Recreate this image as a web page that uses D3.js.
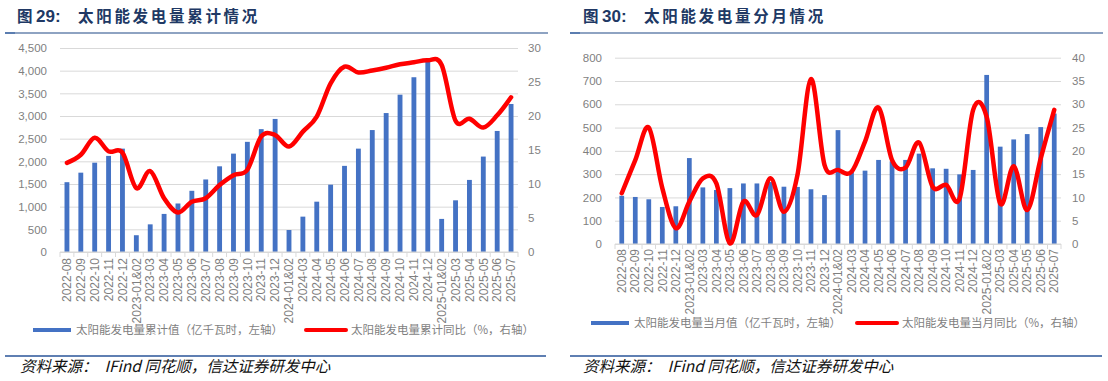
<!DOCTYPE html>
<html>
<head>
<meta charset="utf-8">
<script src="https://cdn.jsdelivr.net/npm/d3@7"></script>
<style>
body { margin: 0; background: #fff; }
text { font-family: "Liberation Sans", Arial, "Noto Sans CJK SC", sans-serif; }
.cjk { font-family: "Noto Sans CJK SC", sans-serif; }
</style>
</head>
<body>
<script>
// categories shared by both panels
const categories = [
  '2022-08','2022-09','2022-10','2022-11','2022-12',
  '2023-01&02','2023-03','2023-04','2023-05','2023-06','2023-07','2023-08','2023-09','2023-10','2023-11','2023-12',
  '2024-01&02','2024-03','2024-04','2024-05','2024-06','2024-07','2024-08','2024-09','2024-10','2024-11','2024-12',
  '2025-01&02','2025-03','2025-04','2025-05','2025-06','2025-07'
];

// fig 29: cumulative generation (100m kWh) and cumulative yoy (%)
const cumValues = [1540,1750,1970,2120,2280, 370,610,840,1070,1350,1600,1890,2170,2430,2710,2935,
  485,780,1110,1485,1900,2280,2690,3065,3470,3855,4200, 730,1140,1590,2105,2670,3265];
const cumYoy = [13.1,14.3,16.8,14.8,14.6, 9.4,11.9,7.9,5.8,7.4,7.9,9.85,11.3,12.1,17.0,17.2,
  15.5,17.7,19.9,24.8,27.25,26.4,26.7,27.1,27.6,27.9,28.2, 27.5,19.3,19.6,18.3,20.1,22.75];

// fig 30: monthly generation and monthly yoy (%)
const monValues = [207,202,192,159,162, 369,243,232,240,260,260,266,246,245,235,210,
  489,310,315,361,355,361,388,325,323,299,318, 726,418,449,472,502,560];
const monYoy = [10.9,18.0,25.0,12.0,3.4, 9.1,14.1,13.0,0.15,9.1,6.2,14.1,6.9,14.8,35.4,17.0,
  15.9,15.5,22.0,29.3,18.0,16.4,21.8,12.3,12.7,9.8,28.8, 27.3,8.7,16.7,7.3,18.4,28.8];

const leftTicks29 = d3.range(0, 4501, 500);
const rightTicks29 = d3.range(0, 31, 5);
const leftTicks30 = d3.range(0, 801, 100);
const rightTicks30 = d3.range(0, 41, 5);

const svg = d3.select('body')
  .append('svg')
  .attr('width', 1108)
  .attr('height', 381);

svg.append('rect').attr('width', 1108).attr('height', 381).attr('fill', '#fff');

function drawPanel(o) {
  const g = svg.append('g');

  // title
  const title = g.append('text')
    .attr('y', 22)
    .attr('fill', '#203864')
    .attr('font-weight', 'bold')
    .attr('font-size', '15.5px')
    .attr('class', 'cjk');
  title.append('tspan').attr('x', o.titleX).text('图');
  title.append('tspan').attr('x', o.titleX + 19).attr('font-family', '"Liberation Sans", Arial')
    .attr('font-size', '17px').text(o.figNo + ':');
  title.append('tspan').attr('x', o.titleX + 61).attr('letter-spacing', '2.7px').text(o.title);

  // top and bottom rules
  g.append('rect').attr('x', o.ruleX0).attr('y', 32).attr('width', o.ruleX1 - o.ruleX0).attr('height', 2).attr('fill', '#8EA3C2');
  g.append('rect').attr('x', o.ruleX0).attr('y', 32).attr('width', 10).attr('height', 2).attr('fill', '#5B7DB0');
  g.append('rect').attr('x', o.ruleX0).attr('y', 355).attr('width', o.botX1 - o.ruleX0).attr('height', 2).attr('fill', '#5F7FB2');

  // source
  g.append('text')
    .attr('x', o.srcX).attr('y', 372)
    .attr('font-size', '15.5px')
    .attr('font-style', 'italic')
    .attr('fill', '#111')
    .attr('class', 'cjk')
    .attr('xml:space', 'preserve')
    .text('资料来源：  IFind 同花顺，信达证券研发中心');

  const x = d3.scaleBand()
    .domain(categories)
    .range([o.left, o.right])
    .paddingInner(0.65)
    .paddingOuter(0.325);
  const xb = d3.scaleBand().domain(categories).range([o.left, o.right]);

  const yL = d3.scaleLinear().domain([0, o.leftMax]).range([o.bottom, o.top]);
  const yR = d3.scaleLinear().domain([0, o.rightMax]).range([o.bottom, o.top]);

  // left axis + grid
  const axL = g.append('g')
    .attr('transform', `translate(${o.left},0)`)
    .call(d3.axisLeft(yL).tickValues(o.leftTicks).tickSize(-(o.right - o.left)).tickPadding(13).tickFormat(d3.format(',')));
  axL.select('.domain').remove();
  axL.selectAll('line').attr('stroke', '#D9D9D9');
  axL.selectAll('text').attr('font-size', '11.5px').attr('fill', '#7f7f7f');

  const axR = g.append('g')
    .attr('transform', `translate(${o.right},0)`)
    .call(d3.axisRight(yR).tickValues(o.rightTicks).tickSize(0).tickPadding(o.rightPad));
  axR.select('.domain').remove();
  axR.selectAll('text').attr('font-size', '11.5px').attr('fill', '#7f7f7f');

  // bars
  g.append('g')
    .selectAll('rect')
    .data(o.values)
    .join('rect')
      .attr('x', (d, i) => x(categories[i]))
      .attr('width', x.bandwidth())
      .attr('y', d => yL(d))
      .attr('height', d => yL(0) - yL(d))
      .attr('fill', '#4472C4');

  // x axis line and ticks
  g.append('line')
    .attr('x1', o.left).attr('x2', o.right)
    .attr('y1', o.bottom).attr('y2', o.bottom)
    .attr('stroke', '#D9D9D9');
  g.append('g')
    .selectAll('line')
    .data(d3.range(categories.length + 1))
    .join('line')
      .attr('x1', i => o.left + i * xb.step()).attr('x2', i => o.left + i * xb.step())
      .attr('y1', o.bottom).attr('y2', o.bottom + 5)
      .attr('stroke', '#D9D9D9');

  g.append('g')
    .selectAll('text')
    .data(categories)
    .join('text')
      .attr('transform', d => `translate(${xb(d) + xb.bandwidth() / 2},${o.bottom + o.labelGap}) rotate(-90)`)
      .attr('text-anchor', 'end')
      .attr('dy', '0.35em')
      .attr('font-size', '12px')
      .attr('fill', '#7f7f7f')
      .text(d => d);

  // yoy line
  const line = d3.line()
    .x((d, i) => xb(categories[i]) + xb.bandwidth() / 2)
    .y(d => yR(d))
    .curve(d3.curveCatmullRom.alpha(0));
  g.append('path')
    .datum(o.yoy)
    .attr('d', line)
    .attr('fill', 'none')
    .attr('stroke', '#FF0000')
    .attr('stroke-width', 4.5)
    .attr('stroke-linejoin', 'round')
    .attr('stroke-linecap', 'round');

  // legend
  const lg = g.append('g').attr('class', 'cjk');
  lg.append('rect')
    .attr('x', o.leg1X).attr('y', o.legY - 2).attr('width', 38).attr('height', 4)
    .attr('fill', '#4472C4');
  lg.append('text')
    .attr('x', o.leg1X + 43).attr('y', o.legY).attr('dy', '0.35em')
    .attr('font-size', '11.5px').attr('fill', '#7f7f7f')
    .attr('class', 'cjk')
    .text(o.leg1);
  lg.append('line')
    .attr('x1', o.leg2X).attr('x2', o.leg2X + 40)
    .attr('y1', o.legY).attr('y2', o.legY)
    .attr('stroke', '#FF0000').attr('stroke-width', 4).attr('stroke-linecap', 'round');
  lg.append('text')
    .attr('x', o.leg2X + 45).attr('y', o.legY).attr('dy', '0.35em')
    .attr('font-size', '11.5px').attr('fill', '#7f7f7f')
    .attr('class', 'cjk')
    .text(o.leg2);
}

drawPanel({
  titleX: 17, figNo: '29', title: '太阳能发电量累计情况',
  ruleX0: 5, ruleX1: 548, botX1: 546, srcX: 20,
  left: 60, right: 518, top: 48, bottom: 252,
  leftMax: 4500, leftTicks: leftTicks29,
  rightMax: 30, rightTicks: rightTicks29, rightPad: 10,
  values: cumValues, yoy: cumYoy, labelGap: 6,
  legY: 330, leg1X: 33, leg2X: 306,
  leg1: '太阳能发电量累计值（亿千瓦时，左轴）',
  leg2: '太阳能发电量累计同比（%，右轴）'
});

drawPanel({
  titleX: 583, figNo: '30', title: '太阳能发电量分月情况',
  ruleX0: 570, ruleX1: 1103, botX1: 1102, srcX: 583,
  left: 615, right: 1061, top: 57.7, bottom: 244,
  leftMax: 800, leftTicks: leftTicks30,
  rightMax: 40, rightTicks: rightTicks30, rightPad: 11,
  values: monValues, yoy: monYoy, labelGap: 5,
  legY: 323, leg1X: 591, leg2X: 857,
  leg1: '太阳能发电量当月值（亿千瓦时，左轴）',
  leg2: '太阳能发电量当月同比（%，右轴）'
});
</script>
</body>
</html>
